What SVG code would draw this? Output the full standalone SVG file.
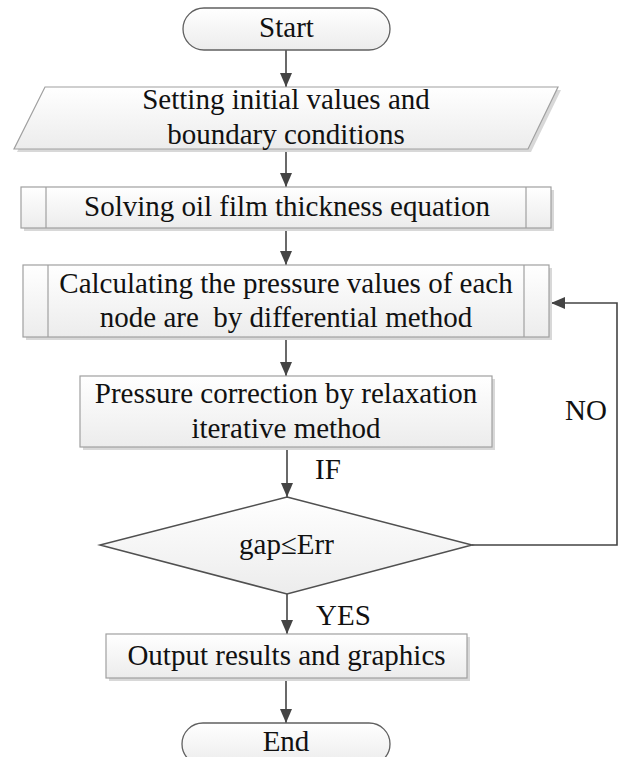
<svg xmlns="http://www.w3.org/2000/svg" width="624" height="757" viewBox="0 0 624 757">
<style>
text{font-family:'Liberation Serif','DejaVu Serif',serif;font-size:29px;fill:#111;}
.c{text-anchor:middle;}
.box{fill:url(#g);stroke:#a0a0a0;stroke-width:1.2;}
.term{fill:url(#g);stroke:#606060;stroke-width:1.3;}
.dia{fill:url(#g);stroke:#505050;stroke-width:1.5;}
.sh{fill:#d8d8d8;}
.div{stroke:#a0a0a0;stroke-width:1.2;fill:none;}
.ln{stroke:#444;stroke-width:1.6;fill:none;}
</style>
<defs>
<linearGradient id="g" x1="0" y1="0" x2="0" y2="1">
<stop offset="0" stop-color="#ffffff"/>
<stop offset="1" stop-color="#ececec"/>
</linearGradient>
<marker id="ah" markerWidth="14" markerHeight="12" refX="14" refY="6" orient="auto" markerUnits="userSpaceOnUse">
<path d="M0,0 L14,6 L0,12 Z" fill="#444"/>
</marker>
</defs>

<g id="connectors">
<line class="ln" x1="286" y1="50" x2="286" y2="87" marker-end="url(#ah)"/>
<line class="ln" x1="286" y1="149" x2="286" y2="187" marker-end="url(#ah)"/>
<line class="ln" x1="286" y1="228" x2="286" y2="265" marker-end="url(#ah)"/>
<line class="ln" x1="286" y1="337" x2="286" y2="376" marker-end="url(#ah)"/>
<line class="ln" x1="287" y1="447" x2="287" y2="497" marker-end="url(#ah)"/>
<line class="ln" x1="287" y1="594" x2="287" y2="634" marker-end="url(#ah)"/>
<line class="ln" x1="286" y1="678" x2="286" y2="723" marker-end="url(#ah)"/>
<polyline class="ln" points="472,545 617,545 617,303 551,303" marker-end="url(#ah)"/>
<text x="315" y="479" font-family="Liberation Serif, serif">IF</text>
<text x="565" y="420" font-family="Liberation Serif, serif">NO</text>
<text x="316" y="625" font-family="Liberation Serif, serif">YES</text>
</g>

<g id="start">
<rect class="term" x="183" y="8" width="207" height="42" rx="21"/>
<text class="c" x="286.5" y="37" font-family="Liberation Serif, serif">Start</text>
</g>

<g id="setting">
<polygon class="sh" points="48,90 561,90 531,152 17,152"/>
<polygon class="box" points="45,87 558,87 528,149 14,149"/>
<text class="c" x="286" y="109" font-family="Liberation Serif, serif">Setting initial values and</text>
<text class="c" x="286" y="144" font-family="Liberation Serif, serif">boundary conditions</text>
</g>

<g id="solving">
<rect class="sh" x="24" y="190" width="530" height="41"/>
<rect class="box" x="21" y="187" width="530" height="41"/>
<line class="div" x1="46" y1="187" x2="46" y2="228"/>
<line class="div" x1="526" y1="187" x2="526" y2="228"/>
<text class="c" x="287" y="216" font-family="Liberation Serif, serif">Solving oil film thickness equation</text>
</g>

<g id="calculating">
<rect class="sh" x="26" y="268" width="526" height="72"/>
<rect class="box" x="23" y="265" width="526" height="72"/>
<line class="div" x1="48" y1="265" x2="48" y2="337"/>
<line class="div" x1="524" y1="265" x2="524" y2="337"/>
<text class="c" x="286" y="293" font-family="Liberation Serif, serif">Calculating the pressure values of each</text>
<text class="c" x="286" y="327" font-family="Liberation Serif, serif" xml:space="preserve">node are  by differential method</text>
</g>

<g id="correction">
<rect class="sh" x="83" y="379" width="412" height="71"/>
<rect class="box" x="80" y="376" width="412" height="71"/>
<text class="c" x="286" y="403" font-family="Liberation Serif, serif">Pressure correction by relaxation</text>
<text class="c" x="286" y="438" font-family="Liberation Serif, serif">iterative method</text>
</g>

<g id="decision">
<polygon class="dia" points="287,497 472,545 287,594 100,545"/>
<text class="c" x="286.5" y="554" font-family="Liberation Serif, serif">gap≤Err</text>
</g>

<g id="output">
<rect class="sh" x="109" y="637" width="361" height="44"/>
<rect class="box" x="106" y="634" width="361" height="44"/>
<text class="c" x="286.5" y="665" font-family="Liberation Serif, serif">Output results and graphics</text>
</g>

<g id="end">
<rect class="term" x="182" y="723" width="208" height="42" rx="21"/>
<text class="c" x="286" y="751" font-family="Liberation Serif, serif">End</text>
</g>
</svg>
